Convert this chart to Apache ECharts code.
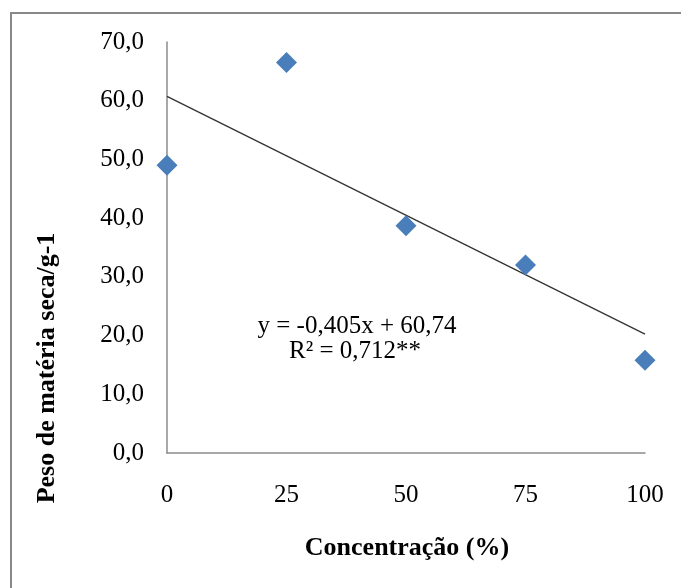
<!DOCTYPE html>
<html>
<head>
<meta charset="utf-8">
<script src="https://cdn.jsdelivr.net/npm/echarts@6/dist/echarts.min.js"></script>
<style>
  html, body { margin: 0; padding: 0; background: #fff; }
  #chart { width: 681px; height: 588px; }
</style>
</head>
<body>
<div id="chart"></div>
<script>
// concentração (%) e peso de matéria seca
var concentracao = [0, 25, 50, 75, 100];
var pesoSeco = [49.0, 66.5, 38.7, 32.0, 15.8];

// equação da linha de tendência mostrada no gráfico
var slope = -0.405;
var intercept = 60.74;
var equacao = ['y = -0,405x + 60,74', 'R\u00b2 = 0,712**'];

var xTicks = { min: 0, max: 100, interval: 25 };
var yTicks = { min: 0, max: 70, interval: 10 };

var serif = '"Liberation Serif", "Times New Roman", serif';

var pontos = concentracao.map(function (c, i) {
    return [c, pesoSeco[i]];
});
var tendencia = [xTicks.min, xTicks.max].map(function (x) {
    return [x, intercept + slope * x];
});

var chart = echarts.init(document.getElementById('chart'));

var option = {
    animation: false,
    grid: {
        left: 167,
        right: 36,
        top: 42,
        bottom: 135
    },
    xAxis: {
        type: 'value',
        min: xTicks.min,
        max: xTicks.max,
        interval: xTicks.interval,
        axisLine: { show: true, lineStyle: { color: '#8c8c8c', width: 1.5 } },
        axisTick: { show: false },
        splitLine: { show: false },
        axisLabel: {
            margin: 30,
            color: '#000',
            fontFamily: serif,
            fontSize: 25
        }
    },
    yAxis: {
        type: 'value',
        min: yTicks.min,
        max: yTicks.max,
        interval: yTicks.interval,
        axisLine: { show: true, lineStyle: { color: '#8c8c8c', width: 1.5 } },
        axisTick: { show: false },
        splitLine: { show: false },
        axisLabel: {
            margin: 23,
            color: '#000',
            fontFamily: serif,
            fontSize: 25,
            formatter: function (v) {
                return v.toFixed(1).replace('.', ',');
            }
        }
    },
    series: [{
        type: 'line',
        data: tendencia,
        symbol: 'none',
        lineStyle: { color: '#333', width: 1.3 },
        z: 2
    }, {
        type: 'scatter',
        data: pontos,
        symbol: 'diamond',
        symbolSize: 21,
        itemStyle: { color: '#4a7ebb', opacity: 1 },
        z: 3
    }],
    graphic: [{
        type: 'rect',
        shape: { x: 11, y: 13, width: 700, height: 600 },
        style: { fill: 'none', stroke: '#888', lineWidth: 2 }
    }, {
        type: 'text',
        x: 357,
        y: 326,
        style: {
            text: equacao[0],
            fill: '#000',
            font: '25px ' + serif,
            align: 'center',
            verticalAlign: 'middle'
        }
    }, {
        type: 'text',
        x: 355,
        y: 351,
        style: {
            text: equacao[1],
            fill: '#000',
            font: '25px ' + serif,
            align: 'center',
            verticalAlign: 'middle'
        }
    }, {
        type: 'text',
        x: 407,
        y: 548,
        style: {
            text: 'Concentração (%)',
            fill: '#000',
            font: 'bold 26px ' + serif,
            align: 'center',
            verticalAlign: 'middle'
        }
    }, {
        type: 'text',
        x: 47,
        y: 368,
        rotation: Math.PI / 2,
        style: {
            text: 'Peso de matéria seca/g-1',
            fill: '#000',
            font: 'bold 26px ' + serif,
            align: 'center',
            verticalAlign: 'middle'
        }
    }]
};

chart.setOption(option);
</script>
</body>
</html>
